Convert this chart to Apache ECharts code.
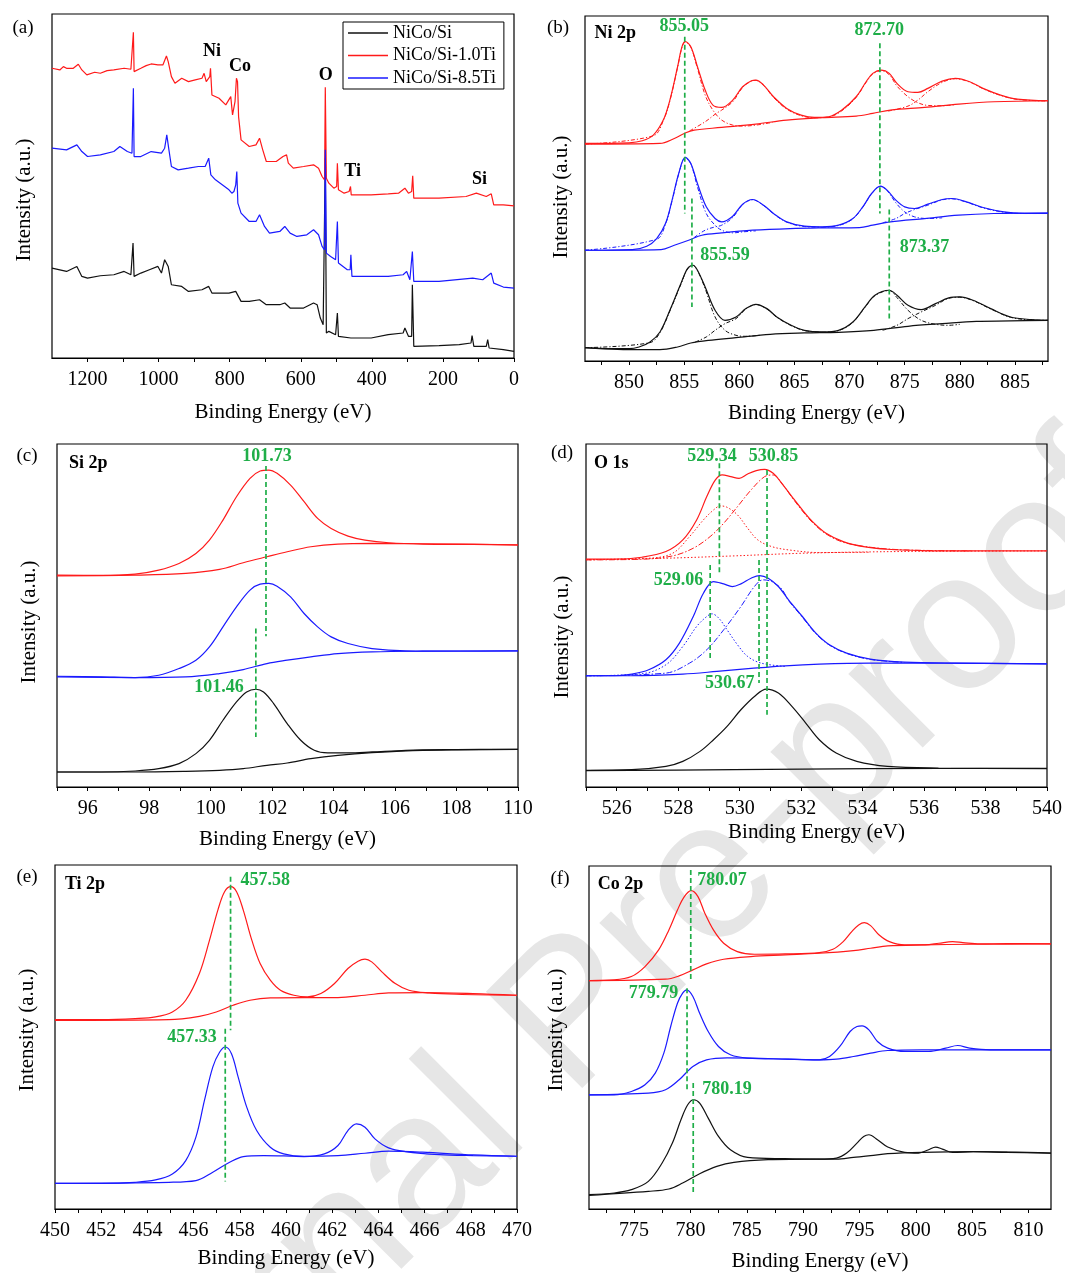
<!DOCTYPE html>
<html><head><meta charset="utf-8">
<script src="https://cdn.jsdelivr.net/npm/echarts@6/dist/echarts.min.js"></script>
<style>html,body{margin:0;padding:0;background:#fff}#c{width:1065px;height:1273px}</style>
</head><body><div id="c"></div>
<script>
// ---------------- (a) survey ----------------
const surveyRed = [[1300,87.0],[1278,86.5],[1268,87.5],[1259,87.0],[1240,87.0],[1226,88.2],[1216,86.5],[1202,85.0],[1180,85.8],[1164,85.5],[1145,86.3],[1126,86.5],[1097,87.0],[1078,86.7],[1073,86.5],[1071,97.8],[1069,86.0],[1050,87.0],[1035,87.8],[1021,88.3],[1002,88.0],[988,88.0],[978,90.7],[973,89.0],[964,84.5],[954,82.5],[935,84.0],[916,83.0],[897,83.5],[878,84.0],[872,85.5],[866,83.0],[856,84.5],[854,87.0],[850,79.0],[830,78.0],[811,76.0],[797,78.5],[792,73.0],[785,77.0],[781,84.0],[778,83.0],[775,72.5],[768,65.5],[745,63.5],[726,64.0],[716,66.0],[707,62.5],[697,59.0],[669,59.0],[650,60.5],[640,61.0],[635,58.5],[621,57.0],[592,57.5],[564,58.0],[550,57.0],[540,54.5],[533,53.5],[531,81.3],[528,54.0],[521,52.5],[507,51.0],[499,51.5],[497,58.5],[494,50.5],[478,49.5],[464,50.0],[460,51.5],[458,49.0],[402,49.0],[354,49.3],[325,49.5],[307,51.0],[297,49.5],[288,50.0],[285,54.7],[282,48.0],[211,48.0],[135,48.5],[106,49.5],[78,48.5],[64,49.3],[57,46.0],[30,46.0],[0,45.7]];
const surveyBlue = [[1300,63.0],[1259,62.5],[1230,64.0],[1216,62.0],[1200,60.5],[1164,61.0],[1126,62.0],[1109,63.5],[1088,62.0],[1075,61.5],[1073,61.5],[1071,81.0],[1069,60.5],[1050,60.5],[1021,62.0],[992,61.5],[983,63.0],[977,67.0],[971,62.5],[964,57.5],[945,56.5],[916,57.0],[888,57.5],[869,57.5],[859,60.0],[853,55.0],[840,53.5],[821,52.0],[802,50.5],[794,49.5],[788,50.0],[783,52.0],[780,56.0],[777,46.5],[768,43.5],[745,41.0],[726,41.0],[716,43.0],[702,39.5],[688,37.5],[659,38.0],[645,39.5],[630,37.5],[611,36.5],[583,37.0],[564,38.5],[550,37.0],[540,33.5],[533,32.5],[531,62.5],[528,31.5],[516,30.5],[502,29.5],[499,29.5],[497,41.0],[494,28.5],[469,26.5],[461,26.5],[459,31.0],[456,24.5],[402,24.5],[354,24.5],[312,25.0],[302,26.0],[293,23.5],[286,32.0],[282,23.0],[211,23.0],[116,24.0],[88,23.5],[64,25.5],[57,22.5],[30,21.3],[0,21.0]];
const surveyBlack = [[1300,27.0],[1259,26.0],[1230,27.5],[1216,24.5],[1200,24.0],[1164,24.7],[1126,25.0],[1097,26.0],[1078,25.0],[1075,25.0],[1072,34.5],[1069,24.5],[1050,25.5],[1026,26.5],[1002,27.5],[992,25.5],[983,29.5],[973,27.5],[964,22.0],[935,21.5],[916,20.0],[878,20.5],[859,21.5],[850,19.5],[802,19.5],[783,20.0],[768,17.0],[745,17.0],[716,17.5],[697,16.0],[659,16.0],[645,16.5],[630,15.0],[592,15.0],[564,16.5],[554,16.0],[545,12.0],[537,10.0],[533,9.5],[531,60.0],[528,7.5],[521,8.0],[502,7.0],[499,7.0],[497,13.5],[494,6.5],[459,6.0],[402,6.0],[354,7.0],[312,7.5],[307,9.0],[297,6.5],[288,6.5],[286,22.0],[282,3.5],[211,3.7],[154,4.0],[121,4.5],[118,6.7],[113,3.5],[78,3.5],[74,5.5],[70,3.0],[30,2.5],[0,2.0]];
const surveyTicks = [0,100,200,300,400,500,600,700,800,900,1000,1100,1200];
const surveyLabels = [0,200,400,600,800,1000,1200];
const surveyElementLabels = [[849.5,92.0,'Ni'],[771,87.5,'Co'],[530,85.0,'O'],[454,56.0,'Ti'],[97,53.5,'Si']];
const sampleNames = ['NiCo/Si','NiCo/Si-1.0Ti','NiCo/Si-8.5Ti'];

// ---------------- (b) Ni 2p ----------------
const niRedEnv = [[846,65.2],[850,65.4],[851.2,66.0],[852.2,67.7],[853.1,72.2],[853.7,78.2],[854.4,88.2],[854.8,94.2],[855.1,95.7],[855.6,94.2],[856.2,88.2],[856.9,81.2],[857.6,76.7],[858.4,76.0],[859.4,78.2],[860.3,82.2],[861.1,84.0],[861.5,84.2],[862.2,82.7],[863.1,79.2],[864.3,75.7],[865.6,73.7],[866.8,73.0],[868.1,73.2],[869.3,75.2],[870.6,79.2],[871.5,83.7],[872.1,86.2],[872.9,87.2],[873.6,86.2],[874.3,83.2],[875.3,80.7],[876.2,80.5],[877.1,81.7],[878.4,83.9],[879.6,84.7],[880.9,83.7],[882.1,81.7],[883.7,79.7],[885.2,78.5],[888,78.0]];
const niRedBg = [[846,65.0],[852.8,65.2],[854.1,66.7],[855.0,68.2],[855.9,69.2],[858.4,70.0],[861.5,71.0],[864.3,72.2],[867.5,72.9],[870.6,73.4],[872.1,74.2],[873.7,75.2],[876.8,76.0],[879.9,77.0],[883.1,77.7],[888,78.0]];
const niRedC1 = [[846,65.0],[852.2,67.5],[853.1,72.0],[853.7,78.0],[854.4,88.0],[854.8,94.0],[855.1,95.6],[855.6,94.0],[856.2,87.7],[856.9,79.7],[857.6,75.2],[858.4,72.2],[859.4,70.7],[860.3,70.4],[861.5,70.7],[863,71.5]];
const niRedC2 = [[855.5,69.0],[856.9,71.7],[857.9,74.2],[858.4,75.2],[859.4,77.7],[860.3,82.0],[861.1,83.9],[861.5,84.1],[862.2,82.6],[863.1,79.0],[864.3,75.5],[865.6,73.5],[866.8,72.8]];
const niRedC3 = [[866.8,72.9],[868.1,73.1],[869.3,75.0],[870.6,79.0],[871.5,83.5],[872.1,86.0],[872.9,87.0],[873.6,85.8],[874.3,82.4],[875.3,79.2],[876.2,77.4],[877.1,76.6],[878.4,76.5],[879.5,76.8]];
const niRedC4 = [[873.5,74.9],[875.3,76.4],[876.2,78.2],[877.1,80.7],[878.4,83.5],[879.6,84.6],[880.9,83.6],[882.1,81.6],[883.7,79.6],[885.2,78.4],[888,77.9]];
const niBluEnv = [[846,33.2],[850.3,33.4],[851.6,34.4],[852.5,36.7],[853.3,41.2],[853.9,48.2],[854.5,56.2],[855.1,61.0],[855.6,59.2],[856.2,53.2],[857.0,46.2],[857.8,42.7],[858.4,41.7],[859.4,43.4],[860.3,47.0],[861.2,48.4],[862.2,46.7],[863.1,44.2],[864.3,41.7],[865.9,40.4],[867.5,40.2],[869.0,40.7],[870.3,42.7],[871.2,46.2],[872.0,50.2],[872.8,52.4],[873.4,51.2],[874.2,48.2],[875.0,46.2],[875.9,45.7],[877.1,47.0],[878.4,48.4],[879.3,48.7],[880.6,47.7],[882.1,46.0],[884.0,44.7],[885.9,44.2],[888,44.2]];
const niBluBg = [[846,33.2],[852.9,33.4],[854.1,34.7],[855.4,36.2],[856.6,37.7],[858.4,38.4],[861.2,39.2],[864.6,39.7],[867.8,39.9],[870.9,40.0],[872.1,40.7],[873.7,41.7],[876.8,42.7],[879.9,43.7],[883.1,44.2],[888,44.4]];
const niBluC1 = [[846,33.2],[852.5,36.5],[853.3,41.0],[853.9,48.0],[854.5,56.0],[855.1,60.9],[855.6,59.1],[856.2,52.2],[857.0,44.2],[857.8,40.7],[858.4,39.2],[859.4,38.4],[860.3,38.7],[861.5,39.0]];
const niBluC2 = [[855.9,37.0],[856.9,39.2],[857.8,40.2],[858.4,40.7],[859.4,43.0],[860.3,46.9],[861.2,48.3],[862.2,46.6],[863.1,44.1],[864.3,41.6],[865.9,40.3],[867.5,40.1]];
const niBluC3 = [[867.5,40.1],[869.0,40.6],[870.3,42.6],[871.2,46.1],[872.0,50.1],[872.8,52.3],[873.4,51.1],[874.2,47.4],[875.0,44.7],[875.9,43.2],[877.1,42.7],[878.4,42.9]];
const niBluC4 = [[873.0,41.4],[874.2,42.7],[875.0,44.2],[875.9,45.4],[877.1,46.7],[878.4,48.3],[879.3,48.6],[880.6,47.6],[882.1,45.9],[884.0,44.6],[885.9,44.2],[888,44.2]];
const niBlkEnv = [[846,4.0],[848.4,3.7],[850,3.7],[850.9,4.2],[851.9,5.7],[852.8,8.7],[853.7,15.2],[854.7,23.2],[855.3,27.7],[855.8,28.7],[856.2,27.2],[856.9,22.2],[857.8,15.2],[858.7,12.2],[859.7,13.2],[860.6,15.7],[861.5,17.0],[862.5,15.7],[863.4,13.2],[864.7,10.7],[865.9,9.2],[867.5,8.7],[869.0,9.2],[870.3,11.7],[871.4,16.2],[872.3,19.7],[873.6,21.2],[874.3,19.7],[875.3,16.7],[876.5,15.4],[877.8,17.2],[879.0,18.9],[880.0,19.2],[881.2,18.2],[882.8,15.7],[884.6,13.2],[886.5,12.4],[888,12.2]];
const niBlkBg = [[846,4.0],[850.3,3.4],[852.8,3.4],[854.4,4.2],[855.6,5.4],[857.2,6.2],[859.7,7.0],[862.8,8.0],[865.9,8.4],[869.0,8.6],[872.2,9.2],[875.3,10.4],[878.4,11.2],[881.5,11.9],[884.6,12.0],[888,12.2]];
const niBlkC1 = [[846,4.0],[851.9,5.5],[852.8,8.5],[853.7,15.0],[854.7,23.0],[855.3,27.6],[855.8,28.6],[856.2,27.1],[856.9,21.7],[857.8,13.2],[858.7,9.2],[859.7,7.7],[860.6,7.4],[862,7.8]];
const niBlkC2 = [[856.0,5.7],[857.0,7.2],[857.8,9.2],[858.7,11.2],[859.7,12.7],[860.6,15.6],[861.5,16.9],[862.5,15.6],[863.4,13.1],[864.7,10.6],[865.9,9.1],[867.5,8.6]];
const niBlkC3 = [[867.5,8.6],[869.0,9.1],[870.3,11.6],[871.4,16.1],[872.3,19.6],[873.6,21.1],[874.3,19.0],[875.3,15.2],[876.5,12.2],[877.8,11.0],[879.0,10.7],[880,11.0]];
const niBlkC4 = [[873.0,9.2],[874.3,10.7],[875.3,12.7],[876.5,14.7],[877.8,16.7],[879.0,18.8],[880.0,19.1],[881.2,18.1],[882.8,15.6],[884.6,13.1],[886.5,12.3],[888,12.2]];
const niMarks = [[855.05,97.2,44.2],[872.75,95.2,44.2],[855.7,48.7,16.2],[873.6,45.4,12.7]];
const niLabels = [[855.0,100.2,'855.05'],[872.7,99.0,'872.70'],[858.7,31.7,'855.59'],[876.8,34.2,'873.37']];
const niTicks = [847.5,850,852.5,855,857.5,860,862.5,865,867.5,870,872.5,875,877.5,880,882.5,885,887.5];
const niTickLabels = [850,855,860,865,870,875,880,885];

// ---------------- (c) Si 2p ----------------
const siRedEnv = [[95,63.5],[96.44,63.4],[97.54,63.8],[98.31,65.0],[98.97,67.0],[99.52,70.0],[99.96,74.0],[100.40,80.0],[100.84,87.0],[101.28,92.5],[101.61,94.7],[101.89,95.0],[102.16,94.0],[102.60,90.5],[103.04,85.5],[103.48,80.5],[103.92,77.5],[104.47,75.2],[105.02,74.0],[105.80,73.2],[106.90,72.8],[108.55,72.7],[110,72.5]];
const siRedBg = [[95,63.3],[97.54,63.5],[99.19,64.0],[100.29,65.2],[101.06,67.2],[101.83,69.0],[102.49,70.5],[103.26,72.0],[104.14,72.8],[105.25,73.0],[106.90,72.9],[110,72.6]];
const siBluEnv = [[95,33.2],[96.44,33.0],[97.54,32.8],[98.31,33.5],[98.97,35.5],[99.52,38.0],[99.96,42.0],[100.40,48.0],[100.84,54.0],[101.28,59.0],[101.61,60.8],[101.89,61.0],[102.16,60.2],[102.60,57.0],[103.04,52.0],[103.48,48.0],[103.92,45.0],[104.47,43.0],[105.25,41.5],[106.35,40.8],[108.0,40.7],[110,40.8]];
const siBluBg = [[95,33.0],[97.54,32.8],[99.19,33.0],[100.29,34.0],[101.06,35.2],[101.83,37.0],[102.49,38.0],[103.26,39.0],[104.14,40.0],[105.25,40.5],[106.90,40.7],[110,40.8]];
const siBlkEnv = [[95,4.5],[96.44,4.5],[97.54,4.8],[98.31,5.5],[98.97,7.0],[99.52,10.0],[99.96,14.0],[100.40,20.0],[100.84,25.5],[101.17,28.5],[101.47,29.3],[101.72,28.5],[102.05,25.0],[102.49,19.0],[102.93,14.0],[103.37,11.0],[103.81,10.2],[104.47,10.2],[105.25,10.5],[106.35,11.0],[108.0,11.2],[110,11.3]];
const siBlkBg = [[95,4.5],[97.54,4.5],[99.19,4.7],[100.29,5.0],[101.06,5.5],[101.83,6.5],[102.49,7.2],[103.26,8.5],[104.14,9.5],[105.25,10.3],[106.90,11.0],[110,11.3]];
const siMarks = [[101.8,96.2,45.2],[101.47,47.5,15.0]];
const siLabels = [[101.83,99.2,'101.73'],[100.27,30.0,'101.46']];
const siTicks = [95,96,97,98,99,100,101,102,103,104,105,106,107,108,109,110];
const siTickLabels = [96,98,100,102,104,106,108,110];

// ---------------- (d) O 1s ----------------
const oRedEnv = [[525,68.4],[525.93,68.4],[526.82,69.0],[527.60,70.7],[528.15,74.2],[528.60,80.2],[528.93,87.2],[529.21,92.2],[529.43,93.7],[529.71,93.2],[529.98,92.7],[530.26,94.0],[530.54,95.0],[530.81,95.4],[531.09,94.2],[531.37,91.2],[531.70,87.2],[532.04,83.2],[532.37,79.7],[532.81,76.2],[533.37,73.7],[534.03,72.2],[534.81,71.4],[535.92,71.0],[537.58,70.9],[540,70.9]];
const oRedBg = [[525,68.2],[527.60,68.7],[529.82,69.4],[532.04,70.2],[534.25,70.6],[536.47,70.8],[540,70.9]];
const oRedC1 = [[525,68.3],[527.04,68.7],[527.82,70.2],[528.37,75.2],[528.82,80.2],[529.15,83.2],[529.37,84.4],[529.59,84.0],[529.93,81.7],[530.26,77.7],[530.59,74.2],[531.04,72.2],[531.59,71.2],[532.59,70.4],[534.25,70.5]];
const oRedC2 = [[525,68.2],[526.82,68.4],[527.82,69.4],[528.49,71.7],[529.04,75.2],[529.48,79.2],[529.93,84.2],[530.37,89.2],[530.81,93.2],[531.09,93.7],[531.37,91.2],[531.70,87.0],[532.04,82.9],[532.37,79.4],[532.81,76.0],[533.37,73.5],[534.25,72.0],[535.36,71.2],[537.58,70.9]];
const oBluEnv = [[525,33.4],[525.93,33.4],[526.49,33.9],[527.04,35.2],[527.60,38.2],[528.04,43.2],[528.49,51.2],[528.82,58.2],[529.15,61.7],[529.48,61.0],[529.76,60.2],[530.04,61.0],[530.37,62.7],[530.65,63.5],[530.93,62.7],[531.26,60.2],[531.59,56.2],[532.04,51.2],[532.48,46.2],[532.92,42.7],[533.48,40.2],[534.25,38.4],[535.36,37.5],[537.03,37.2],[540,37.0]];
const oBluBg = [[525,33.4],[526.49,33.4],[528.15,33.9],[529.26,34.7],[530.37,35.6],[531.48,36.4],[532.59,36.9],[534.25,37.2],[536.47,37.2],[540,37.0]];
const oBluC1 = [[525,33.4],[526.82,34.0],[527.60,36.7],[528.15,42.2],[528.60,48.2],[528.93,51.2],[529.10,52.0],[529.32,50.7],[529.59,47.2],[529.93,42.7],[530.26,39.2],[530.70,37.2],[531.48,36.2]];
const oBluC2 = [[525,33.4],[527.60,34.2],[528.37,37.2],[528.93,41.2],[529.48,47.2],[530.04,54.2],[530.48,60.2],[530.76,62.2],[531.04,61.7],[531.37,59.4],[531.59,56.0],[532.04,51.0],[532.48,46.0],[532.92,42.6],[533.48,40.1],[534.25,38.3],[535.36,37.4]];
const oBlkEnv = [[525,5.0],[526.49,5.2],[527.60,6.2],[528.15,7.7],[528.71,10.7],[529.15,14.2],[529.59,18.2],[530.04,23.2],[530.48,27.2],[530.87,29.4],[531.26,28.2],[531.70,24.2],[532.15,19.2],[532.59,14.2],[533.14,10.2],[533.81,7.7],[534.81,6.2],[536.47,5.7],[540,5.5]];
const oBlkBg = [[525,4.9],[529.82,5.2],[534.25,5.5],[540,5.6]];
const oMarks = [[529.34,97.2,64.2],[530.89,95.2,21.7],[529.04,66.7,38.2],[530.63,68.2,31.2]];
const oLabels = [[529.10,99.4,'529.34'],[531.10,99.4,'530.85'],[528.01,62.0,'529.06'],[529.68,31.0,'530.67']];
const oTicks = [525,526,527,528,529,530,531,532,533,534,535,536,537,538,539,540];
const oTickLabels = [526,528,530,532,534,536,538,540];

// ---------------- (e) Ti 2p ----------------
const tiRedEnv = [[450,56.7],[452.0,56.7],[453.47,57.0],[454.35,57.5],[455.08,59.0],[455.66,62.5],[456.25,70.5],[456.69,80.5],[457.05,89.5],[457.34,95.0],[457.61,96.5],[457.86,95.0],[458.15,89.5],[458.52,80.5],[458.88,73.5],[459.32,68.5],[459.76,65.5],[460.34,64.0],[460.93,63.5],[461.51,64.5],[462.10,67.5],[462.68,72.0],[463.12,74.2],[463.42,74.8],[463.71,74.0],[464.15,71.0],[464.73,67.5],[465.32,65.5],[466.20,64.7],[467.37,64.3],[470,64.0]];
const tiRedBg = [[450,56.5],[454.93,56.7],[456.25,57.7],[456.98,59.0],[457.71,61.0],[458.44,62.5],[459.32,63.2],[460.78,63.3],[462.25,63.3],[463.42,64.0],[464.44,64.7],[465.90,64.8],[468.10,64.5],[470,64.0]];
const tiBluEnv = [[450,7.7],[452.0,7.7],[453.47,8.0],[454.35,8.7],[455.08,10.5],[455.66,14.5],[456.10,21.5],[456.47,32.5],[456.83,42.5],[457.13,47.0],[457.37,48.5],[457.64,46.5],[457.93,39.5],[458.30,30.5],[458.73,23.5],[459.32,18.5],[459.90,16.5],[460.78,15.7],[461.66,16.5],[462.25,19.0],[462.68,23.5],[463.05,25.5],[463.42,24.5],[463.85,21.0],[464.44,18.3],[465.17,17.2],[466.63,16.3],[468.10,16.0],[470,15.8]];
const tiBluBg = [[450,7.7],[454.93,8.0],[456.10,8.5],[456.83,11.0],[457.56,14.0],[458.15,15.7],[459.03,16.0],[460.78,15.8],[462.25,16.0],[463.42,16.7],[464.44,17.3],[465.90,17.0],[468.10,16.2],[470,15.8]];
const tiMarks = [[457.6,99.5,53.5],[457.37,54.0,8.2]];
const tiLabels = [[459.10,98.3,'457.58'],[455.93,51.3,'457.33']];
const tiTicks = [450,451,452,453,454,455,456,457,458,459,460,461,462,463,464,465,466,467,468,469,470];
const tiTickLabels = [450,452,454,456,458,460,462,464,466,468,470];

// ---------------- (f) Co 2p ----------------
const coRedEnv = [[771,68.6],[773.24,68.8],[774.76,69.8],[775.97,72.8],[777.18,77.8],[778.09,83.8],[778.85,89.8],[779.46,93.8],[780.07,95.6],[780.67,93.8],[781.28,88.8],[782.04,83.8],[782.95,79.8],[784.16,77.3],[785.68,76.5],[788.41,76.6],[791.44,77.0],[792.65,78.0],[793.56,80.3],[794.32,83.3],[794.93,85.3],[795.44,86.0],[795.99,85.1],[796.75,82.3],[797.66,80.3],[799.02,79.3],[800.84,79.3],[802.05,79.8],[803.27,80.3],[804.18,80.0],[805.69,79.6],[808.12,79.7],[812,79.6]];
const coRedBg = [[771,68.6],[777.79,69.0],[779.00,70.0],[780.22,71.8],[781.43,73.6],[782.95,75.0],[785.37,75.8],[788.41,76.3],[791.44,76.8],[794.47,77.6],[795.99,78.3],[797.51,79.0],[800.54,79.3],[805.09,79.5],[812,79.6]];
const coBluEnv = [[771,34.3],[773.24,34.3],[774.76,35.3],[775.97,37.3],[776.88,40.8],[777.64,46.8],[778.25,54.8],[778.85,61.8],[779.31,64.8],[779.67,65.8],[780.22,63.8],[780.82,58.8],[781.58,53.3],[782.49,48.8],[783.55,46.3],[785.07,45.3],[788.41,45.0],[791.44,44.8],[792.35,45.8],[793.26,48.8],[794.17,53.3],[794.78,54.8],[795.23,55.0],[795.84,53.8],[796.60,50.3],[797.51,48.3],[799.02,47.3],[801.14,47.3],[802.66,48.3],[803.72,49.1],[804.78,48.3],[806.60,47.8],[812,47.8]];
const coBluBg = [[771,34.3],[776.27,34.8],[777.79,35.8],[779.00,38.8],[780.22,42.8],[781.43,44.8],[783.25,45.4],[786.89,45.2],[791.44,44.8],[792.96,45.0],[794.47,45.8],[795.99,46.8],[797.51,47.6],[800.54,47.8],[812,47.8]];
const coBlkEnv = [[771,4.3],[773.24,4.8],[774.76,5.8],[776.27,8.3],[777.49,13.8],[778.40,19.8],[779.16,26.8],[779.76,31.3],[780.28,32.8],[780.82,31.8],[781.58,27.3],[782.49,21.8],[783.55,17.8],[785.07,15.5],[788.41,15.1],[791.44,15.0],[792.96,15.3],[793.87,16.8],[794.78,19.8],[795.38,21.8],[795.84,22.3],[796.60,20.8],[797.51,18.6],[799.02,17.0],[800.24,16.8],[801.14,17.8],[801.75,18.6],[802.36,18.0],[803.27,17.0],[805.09,17.2],[808.12,17.0],[812,16.8]];
const coBlkBg = [[771,4.1],[776.27,5.3],[778.09,6.0],[779.31,7.8],[780.82,10.6],[782.34,12.8],[783.86,14.0],[786.89,14.8],[791.44,15.0],[792.96,15.0],[794.47,15.5],[795.99,16.0],[797.51,16.6],[800.54,17.0],[805.09,17.2],[812,16.8]];
const coMarks = [[780.03,101.8,68.3],[779.7,66.3,35.8],[780.25,37.8,5.0]];
const coLabels = [[782.80,98.6,'780.07'],[776.73,64.8,'779.79'],[783.25,35.8,'780.19']];
const coTicks = [772.5,775,777.5,780,782.5,785,787.5,790,792.5,795,797.5,800,802.5,805,807.5,810];
const coTickLabels = [775,780,785,790,795,800,805,810];

// panel titles
const panelTitles = [[848.75,98.2,'Ni 2p'],[96.02,97.0,'Si 2p'],[525.82,97.2,'O 1s'],[451.30,97.3,'Ti 2p'],[773.79,97.6,'Co 2p']];

// ---------------- build ----------------
const FONT = 'Liberation Serif';
const GREEN = '#1fae48', RED = '#ff1a1a', BLUE = '#1a1aff', BLACK = '#111111';
const DASHDOT = [4,2,1.2,2], DOT = [1.5,2], DASHDOT2 = [6,2,1.5,2];

const panelCfg = [
  {grid:{left:52,top:14,width:462,height:344}, min:0, max:1300, inverse:true, ticks:surveyTicks, labels:surveyLabels, ymax:103.3, nameGap:44, yName:[24,200], tag:['(a)',23,28]},
  {grid:{left:585,top:16,width:463,height:345}, min:846, max:888, ticks:niTicks, labels:niTickLabels, ymax:103.4, nameGap:42, yName:[561,197], tag:['(b)',558,28]},
  {grid:{left:57,top:444,width:461,height:343}, min:95, max:110, ticks:siTicks, labels:siTickLabels, ymax:102.8, nameGap:42, yName:[29,622], tag:['(c)',27,456]},
  {grid:{left:586,top:444,width:462,height:343}, min:525, max:540, ticks:oTicks, labels:oTickLabels, ymax:103.0, nameGap:35, yName:[562,637], tag:['(d)',562,453]},
  {grid:{left:55,top:865,width:462,height:344}, min:450, max:470, ticks:tiTicks, labels:tiTickLabels, ymax:103.0, nameGap:39, yName:[27,1030], tag:['(e)',27,877]},
  {grid:{left:589,top:866,width:462,height:345}, min:771, max:812, ticks:coTicks, labels:coTickLabels, ymax:103.0, nameGap:42, yName:[556,1030], tag:['(f)',560,879]}
];

const grids = [], xAxes = [], yAxes = [], series = [], graphics = [];

graphics.push({type:'text', x:34, y:1559, rotation:Math.PI/4, z:-10, silent:true,
  style:{text:'Journal Pre-proof', font:'198px "Liberation Sans"', fill:'#e6e6e6', align:'left', verticalAlign:'middle'}});

panelCfg.forEach((p,i)=>{
  grids.push(Object.assign({show:true, borderColor:'#000', borderWidth:1.2, backgroundColor:'transparent', containLabel:false}, p.grid));
  xAxes.push({gridIndex:i, type:'value', min:p.min, max:p.max, inverse:!!p.inverse,
    axisLine:{show:true, onZero:false, lineStyle:{color:'#000', width:1.2}},
    axisTick:{show:true, inside:false, length:4, customValues:p.ticks, lineStyle:{color:'#000', width:1}},
    axisLabel:{show:true, customValues:p.labels, fontFamily:FONT, fontSize:20, color:'#000', margin:12,
      formatter:function(v){return String(v);}},
    splitLine:{show:false},
    name:'Binding Energy (eV)', nameLocation:'middle', nameGap:p.nameGap,
    nameTextStyle:{fontFamily:FONT, fontSize:21, color:'#000'}});
  yAxes.push({gridIndex:i, type:'value', min:0, max:p.ymax,
    axisLine:{show:false}, axisTick:{show:false}, axisLabel:{show:false}, splitLine:{show:false}});
  graphics.push({type:'text', x:p.yName[0], y:p.yName[1], rotation:Math.PI/2, silent:true,
    style:{text:'Intensity (a.u.)', font:'21px "Liberation Serif"', fill:'#000', align:'center', verticalAlign:'middle'}});
  graphics.push({type:'text', x:p.tag[1], y:p.tag[2], silent:true,
    style:{text:p.tag[0], font:'19px "Liberation Serif"', fill:'#000', align:'center', verticalAlign:'middle'}});
});

function L(g, data, color, dash, smooth, name, width){
  return {type:'line', name:name, xAxisIndex:g, yAxisIndex:g, data:data, symbol:'none',
    smooth: smooth ? 0.35 : false, silent:true, animation:false, z:3,
    lineStyle:{color:color, width:width||1.2, type:dash||'solid'}, itemStyle:{color:color}};
}
function marks(g, arr){
  arr.forEach(m=>series.push({type:'line', xAxisIndex:g, yAxisIndex:g, data:[[m[0],m[1]],[m[0],m[2]]],
    symbol:'none', silent:true, animation:false, z:5, lineStyle:{color:GREEN, width:1.7, type:[5,3]}}));
}
function labels(g, arr, color, size){
  series.push({type:'scatter', xAxisIndex:g, yAxisIndex:g, symbolSize:0, silent:true, animation:false, z:6,
    itemStyle:{color:color, opacity:1},
    data:arr.map(a=>({value:[a[0],a[1]], name:a[2]})),
    label:{show:true, position:'inside', formatter:'{b}', color:color, opacity:1, fontFamily:FONT, fontWeight:'bold', fontSize:size||18,
      textBorderWidth:0, textBorderColor:'transparent', textShadowBlur:0}});
}

// (a)
series.push(L(0, surveyBlack, BLACK, null, false, sampleNames[0], 1.2));
series.push(L(0, surveyRed, RED, null, false, sampleNames[1], 1.2));
series.push(L(0, surveyBlue, BLUE, null, false, sampleNames[2], 1.2));
labels(0, surveyElementLabels, '#000', 18);

// (b)
[[niRedEnv,niRedBg,niRedC1,niRedC2,niRedC3,niRedC4,RED],[niBluEnv,niBluBg,niBluC1,niBluC2,niBluC3,niBluC4,BLUE],[niBlkEnv,niBlkBg,niBlkC1,niBlkC2,niBlkC3,niBlkC4,BLACK]].forEach(s=>{
  series.push(L(1, s[0], s[6], null, true));
  series.push(L(1, s[1], s[6], null, true));
  for (let k=2;k<6;k++) series.push(L(1, s[k], s[6], DASHDOT, true, undefined, 1));
});
marks(1, niMarks); labels(1, niLabels, GREEN, 18);

// (c)
[[siRedEnv,siRedBg,RED],[siBluEnv,siBluBg,BLUE],[siBlkEnv,siBlkBg,BLACK]].forEach(s=>{
  series.push(L(2, s[0], s[2], null, true));
  series.push(L(2, s[1], s[2], null, true));
});
marks(2, siMarks); labels(2, siLabels, GREEN, 18);

// (d)
series.push(L(3, oRedEnv, RED, null, true));
series.push(L(3, oRedBg, RED, DOT, true, undefined, 1));
series.push(L(3, oRedC1, RED, DOT, true, undefined, 1));
series.push(L(3, oRedC2, RED, DASHDOT2, true, undefined, 1));
series.push(L(3, oBluEnv, BLUE, null, true));
series.push(L(3, oBluBg, BLUE, null, true));
series.push(L(3, oBluC1, BLUE, DOT, true, undefined, 1));
series.push(L(3, oBluC2, BLUE, DASHDOT2, true, undefined, 1));
series.push(L(3, oBlkEnv, BLACK, null, true));
series.push(L(3, oBlkBg, BLACK, null, true));
marks(3, oMarks); labels(3, oLabels, GREEN, 18);

// (e)
[[tiRedEnv,tiRedBg,RED],[tiBluEnv,tiBluBg,BLUE]].forEach(s=>{
  series.push(L(4, s[0], s[2], null, true));
  series.push(L(4, s[1], s[2], null, true));
});
marks(4, tiMarks); labels(4, tiLabels, GREEN, 18);

// (f)
[[coRedEnv,coRedBg,RED],[coBluEnv,coBluBg,BLUE],[coBlkEnv,coBlkBg,BLACK]].forEach(s=>{
  series.push(L(5, s[0], s[2], null, true));
  series.push(L(5, s[1], s[2], null, true));
});
marks(5, coMarks); labels(5, coLabels, GREEN, 18);

// titles in b..f
panelTitles.forEach((t,k)=>labels(k+1, [t], '#000', 18));

const chart = echarts.init(document.getElementById('c'), null, {renderer:'canvas'});
chart.setOption({
  backgroundColor:'#fff', animation:false,
  grid:grids, xAxis:xAxes, yAxis:yAxes, series:series, graphic:graphics,
  legend:{show:true, data:sampleNames, orient:'vertical', left:343, top:22, icon:'rect', itemWidth:40, itemHeight:1.5, itemGap:4.5,
    padding:[2,8,2,5], borderColor:'#000', borderWidth:1, backgroundColor:'#fff', selectedMode:false,
    textStyle:{fontFamily:FONT, fontSize:18, color:'#000', lineHeight:18}}
});
</script></body></html>
